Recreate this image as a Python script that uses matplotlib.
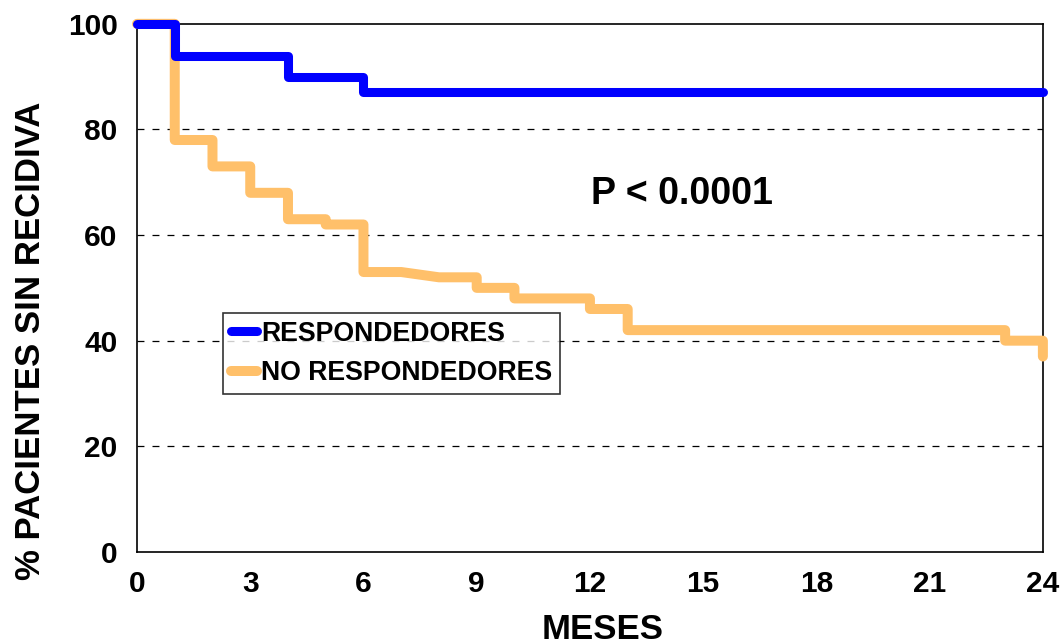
from matplotlib import pyplot as plt

plt.rcParams['font.family'] = ['Liberation Sans', 'DejaVu Sans']
plt.rcParams['font.weight'] = 'bold'
plt.rcParams['lines.scale_dashes'] = False

# Kaplan-Meier style data (months, % without relapse)
resp_t = [0, 1, 4, 6, 24]
resp_s = [100, 94, 90, 87, 87]

noresp_t = [0, 1, 2, 3, 4, 5, 6, 7, 8, 9, 10, 12, 13, 23, 24]
noresp_s = [100, 78, 73, 68, 63, 62, 53, 53, 52, 50, 48, 46, 42, 40, 37]
noresp_ramps = [7]  # segment drawn as a slope instead of a step

x_ticks = [0, 3, 6, 9, 12, 15, 18, 21, 24]
y_ticks = [0, 20, 40, 60, 80, 100]
grid_y = [20, 40, 60, 80]

BLUE = '#0000FF'
ORANGE = '#FFC06A'


def step_path(t, s, ramps=()):
    xs, ys = [t[0]], [s[0]]
    for i in range(1, len(t)):
        if t[i-1] not in ramps:
            xs.append(t[i])
            ys.append(s[i-1])
        xs.append(t[i])
        ys.append(s[i])
    return xs, ys


fig = plt.figure(figsize=(10.62, 6.44), dpi=100)
ax = fig.add_axes([0.129, 0.143, 0.853, 0.820])

for gy in grid_y:
    ax.axhline(gy, color='black', lw=0.9, linestyle=(0, (5, 5.8)), zorder=1)

x, y = step_path(noresp_t, noresp_s, noresp_ramps)
ax.plot(x, y, color=ORANGE, lw=7.2, solid_joinstyle='round', solid_capstyle='round',
        clip_on=False, zorder=3, label='NO RESPONDEDORES')
x, y = step_path(resp_t, resp_s)
ax.plot(x, y, color=BLUE, lw=6.5, solid_joinstyle='round', solid_capstyle='round',
        clip_on=False, zorder=4, label='RESPONDEDORES')

ax.text(14.45, 67.8, 'P < 0.0001', fontsize=27, fontweight='bold', ha='center', va='center')

ax.set_xlim(0, 24)
ax.set_ylim(0, 100)
ax.set_xticks(x_ticks)
ax.set_yticks(y_ticks)
ax.tick_params(length=0, labelsize=21.5)
ax.tick_params(axis='y', pad=14)
ax.tick_params(axis='x', pad=13)
for sp in ax.spines.values():
    sp.set_linewidth(1.2)
    sp.set_color('black')

ax.set_xlabel('MESES', fontsize=25, fontweight='bold')
ax.set_ylabel('% PACIENTES SIN RECIDIVA', fontsize=25, fontweight='bold')
ax.xaxis.set_label_coords(0.514, -0.115, transform=ax.transAxes)
ax.yaxis.set_label_coords(-0.099, 0.40, transform=ax.transAxes)
ax.xaxis.label.set_va('top')

handles, labels = ax.get_legend_handles_labels()
leg = ax.legend(handles[::-1], labels[::-1], loc='upper left', bbox_to_anchor=(0.0946, 0.453),
                borderaxespad=0, fontsize=19.2, frameon=True, fancybox=False,
                handlelength=1.0, handletextpad=0.15, borderpad=0.3, labelspacing=0.5)
leg.get_frame().set_edgecolor('black')
leg.get_frame().set_linewidth(1.2)
for t in leg.get_texts():
    t.set_fontweight('bold')

fig.savefig('out.png', dpi=100)
